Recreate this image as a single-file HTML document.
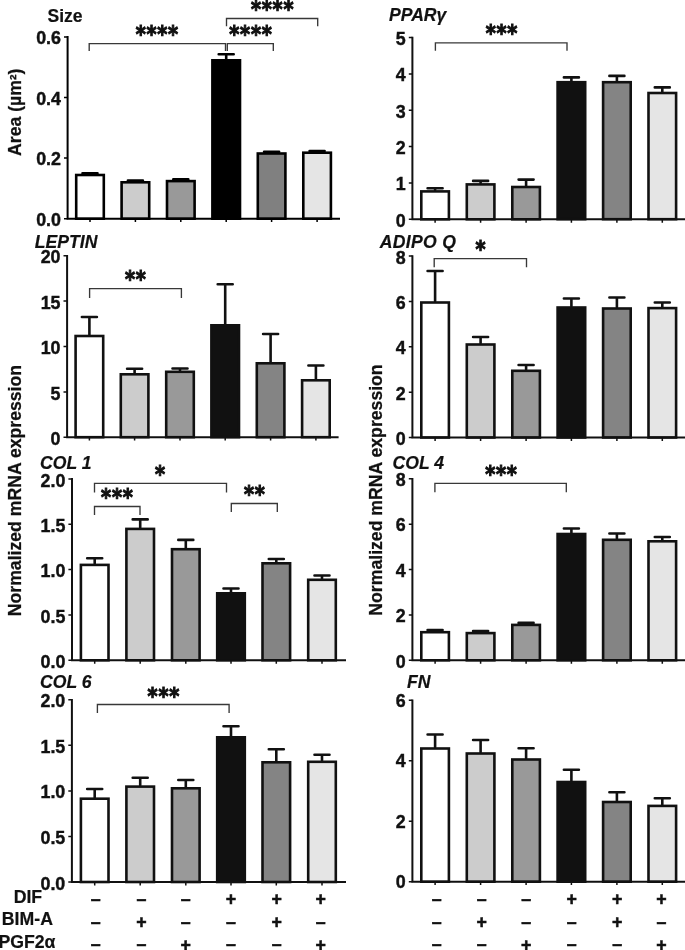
<!DOCTYPE html>
<html lang="en"><head><meta charset="utf-8"><title>Figure</title>
<style>html,body{margin:0;padding:0;background:#fff;}svg{display:block;}text{font-family:'Liberation Sans', Arial, Helvetica, sans-serif;font-weight:bold;fill:#111;}.tk{font-size:17.85px;text-anchor:end;stroke:#111;stroke-width:0.4px;}.tt{font-size:17.5px;stroke:#111;stroke-width:0.2px;}.it{font-style:italic;font-size:17.6px;}.st{font-family:'DejaVu Sans',sans-serif;font-size:19.2px;text-anchor:middle;letter-spacing:0.75px;stroke:#111;stroke-width:0.95px;}.yl{font-size:17.65px;text-anchor:middle;stroke:#111;stroke-width:0.25px;}.rl{font-size:17.7px;text-anchor:middle;stroke:#111;stroke-width:0.2px;}.pm{font-size:17.8px;text-anchor:middle;stroke:#111;stroke-width:0.55px;}</style></head><body>
<svg width="685" height="950" viewBox="0 0 685 950">
<rect x="0" y="0" width="685" height="950" fill="#fff"/>
<g>
<path d="M90.0 173.7V173.2M82.5 173.2H97.5" stroke="#000" stroke-width="2.6" fill="none" stroke-linecap="round"/>
<rect x="76.2" y="175.0" width="27.6" height="43.7" fill="#ffffff" stroke="#000" stroke-width="2.6"/>
<path d="M135.4 181.0V180.6M127.9 180.6H142.9" stroke="#000" stroke-width="2.6" fill="none" stroke-linecap="round"/>
<rect x="121.6" y="182.3" width="27.6" height="36.4" fill="#cccccc" stroke="#000" stroke-width="2.6"/>
<path d="M180.8 179.8V179.4M173.3 179.4H188.3" stroke="#000" stroke-width="2.6" fill="none" stroke-linecap="round"/>
<rect x="167.0" y="181.1" width="27.6" height="37.6" fill="#999999" stroke="#000" stroke-width="2.6"/>
<path d="M226.2 59.0V54.2M218.7 54.2H233.7" stroke="#000" stroke-width="2.6" fill="none" stroke-linecap="round"/>
<rect x="212.4" y="60.3" width="27.6" height="158.4" fill="#000000" stroke="#000" stroke-width="2.6"/>
<path d="M271.6 152.2V151.8M264.1 151.8H279.1" stroke="#000" stroke-width="2.6" fill="none" stroke-linecap="round"/>
<rect x="257.8" y="153.5" width="27.6" height="65.2" fill="#808080" stroke="#000" stroke-width="2.6"/>
<path d="M317.1 151.4V151.0M309.6 151.0H324.6" stroke="#000" stroke-width="2.6" fill="none" stroke-linecap="round"/>
<rect x="303.3" y="152.7" width="27.6" height="66.0" fill="#e5e5e5" stroke="#000" stroke-width="2.6"/>
<path d="M67.6 36.1V218.7H340.0" stroke="#000" stroke-width="2" fill="none" stroke-linejoin="miter"/>
<path d="M67.6 36.9H64.0M67.6 97.5H64.0M67.6 158.1H64.0M67.6 218.7H64.0M90.0 218.7V222.1M135.4 218.7V222.1M180.8 218.7V222.1M226.2 218.7V222.1M271.6 218.7V222.1M317.1 218.7V222.1" stroke="#000" stroke-width="1.5" fill="none"/>
<text class="tk" x="61.0" y="44.0">0.6</text>
<text class="tk" x="61.0" y="104.6">0.4</text>
<text class="tk" x="61.0" y="165.2">0.2</text>
<text class="tk" x="61.0" y="225.8">0.0</text>
<text class="tt" x="47.5" y="22.2">Size</text>
<path d="M89.2 50.9V43.6H225.5V50.9" stroke="#383838" stroke-width="1.35" fill="none"/>
<text class="st" transform="translate(157.3 41.9) scale(1 1.19)">****</text>
<path d="M227.3 50.9V43.6H273.3V50.9" stroke="#383838" stroke-width="1.35" fill="none"/>
<text class="st" transform="translate(250.9 41.9) scale(1 1.19)">****</text>
<path d="M226.5 26.3V18.5H317.7V26.3" stroke="#383838" stroke-width="1.35" fill="none"/>
<text class="st" transform="translate(272.6 16.9) scale(1 1.19)">****</text>
</g>
<g>
<path d="M435.1 190.1V188.2M427.6 188.2H442.6" stroke="#111" stroke-width="2.6" fill="none" stroke-linecap="round"/>
<rect x="421.3" y="191.4" width="27.6" height="27.9" fill="#ffffff" stroke="#111" stroke-width="2.6"/>
<path d="M480.6 183.1V180.9M473.1 180.9H488.1" stroke="#111" stroke-width="2.6" fill="none" stroke-linecap="round"/>
<rect x="466.8" y="184.4" width="27.6" height="34.9" fill="#cccccc" stroke="#111" stroke-width="2.6"/>
<path d="M526.1 185.7V179.6M518.6 179.6H533.6" stroke="#111" stroke-width="2.6" fill="none" stroke-linecap="round"/>
<rect x="512.3" y="187.0" width="27.6" height="32.3" fill="#999999" stroke="#111" stroke-width="2.6"/>
<path d="M571.4 80.9V77.4M563.9 77.4H578.9" stroke="#111" stroke-width="2.6" fill="none" stroke-linecap="round"/>
<rect x="557.6" y="82.2" width="27.6" height="137.0" fill="#111111" stroke="#111" stroke-width="2.6"/>
<path d="M616.9 80.9V75.9M609.4 75.9H624.4" stroke="#111" stroke-width="2.6" fill="none" stroke-linecap="round"/>
<rect x="603.1" y="82.2" width="27.6" height="137.0" fill="#848484" stroke="#111" stroke-width="2.6"/>
<path d="M662.3 91.7V87.4M654.8 87.4H669.8" stroke="#111" stroke-width="2.6" fill="none" stroke-linecap="round"/>
<rect x="648.5" y="93.0" width="27.6" height="126.2" fill="#e5e5e5" stroke="#111" stroke-width="2.6"/>
<path d="M412.4 36.8V219.2H686.0" stroke="#111" stroke-width="2" fill="none" stroke-linejoin="miter"/>
<path d="M412.4 37.5H408.8M412.4 73.9H408.8M412.4 110.2H408.8M412.4 146.6H408.8M412.4 182.9H408.8M412.4 219.2H408.8M435.1 219.2V222.7M480.6 219.2V222.7M526.1 219.2V222.7M571.4 219.2V222.7M616.9 219.2V222.7M662.3 219.2V222.7" stroke="#111" stroke-width="1.5" fill="none"/>
<text class="tk" x="405.8" y="44.9">5</text>
<text class="tk" x="405.8" y="81.3">4</text>
<text class="tk" x="405.8" y="117.6">3</text>
<text class="tk" x="405.8" y="154.0">2</text>
<text class="tk" x="405.8" y="190.3">1</text>
<text class="tk" x="405.8" y="226.7">0</text>
<text class="tt it" x="389.0" y="21.3">PPARγ</text>
<path d="M435.4 50.8V42.8H567.0V50.8" stroke="#383838" stroke-width="1.35" fill="none"/>
<text class="st" transform="translate(501.9 40.9) scale(1 1.19)">***</text>
</g>
<g>
<path d="M89.4 334.7V317.0M81.9 317.0H96.9" stroke="#111" stroke-width="2.6" fill="none" stroke-linecap="round"/>
<rect x="75.6" y="336.0" width="27.6" height="101.2" fill="#ffffff" stroke="#111" stroke-width="2.6"/>
<path d="M134.6 373.0V368.8M127.1 368.8H142.1" stroke="#111" stroke-width="2.6" fill="none" stroke-linecap="round"/>
<rect x="120.8" y="374.3" width="27.6" height="62.9" fill="#cccccc" stroke="#111" stroke-width="2.6"/>
<path d="M180.0 370.5V368.5M172.5 368.5H187.5" stroke="#111" stroke-width="2.6" fill="none" stroke-linecap="round"/>
<rect x="166.2" y="371.8" width="27.6" height="65.4" fill="#999999" stroke="#111" stroke-width="2.6"/>
<path d="M225.2 324.0V284.2M217.7 284.2H232.7" stroke="#111" stroke-width="2.6" fill="none" stroke-linecap="round"/>
<rect x="211.4" y="325.3" width="27.6" height="111.9" fill="#111111" stroke="#111" stroke-width="2.6"/>
<path d="M270.6 362.0V334.0M263.1 334.0H278.1" stroke="#111" stroke-width="2.6" fill="none" stroke-linecap="round"/>
<rect x="256.8" y="363.3" width="27.6" height="73.9" fill="#848484" stroke="#111" stroke-width="2.6"/>
<path d="M315.9 379.0V365.5M308.4 365.5H323.4" stroke="#111" stroke-width="2.6" fill="none" stroke-linecap="round"/>
<rect x="302.1" y="380.3" width="27.6" height="56.9" fill="#e5e5e5" stroke="#111" stroke-width="2.6"/>
<path d="M67.1 255.0V437.2H338.6" stroke="#111" stroke-width="2" fill="none" stroke-linejoin="miter"/>
<path d="M67.1 255.8H63.5M67.1 301.1H63.5M67.1 346.5H63.5M67.1 391.9H63.5M67.1 437.2H63.5M89.4 437.2V440.6M134.6 437.2V440.6M180.0 437.2V440.6M225.2 437.2V440.6M270.6 437.2V440.6M315.9 437.2V440.6" stroke="#111" stroke-width="1.5" fill="none"/>
<text class="tk" x="60.5" y="263.4">20</text>
<text class="tk" x="60.5" y="308.8">15</text>
<text class="tk" x="60.5" y="354.1">10</text>
<text class="tk" x="60.5" y="399.5">5</text>
<text class="tk" x="60.5" y="444.8">0</text>
<text class="tt it" x="34.8" y="248.3">LEPTIN</text>
<path d="M89.6 297.9V288.6H181.4V297.9" stroke="#383838" stroke-width="1.35" fill="none"/>
<text class="st" transform="translate(135.7 286.9) scale(1 1.19)">**</text>
</g>
<g>
<path d="M435.1 301.2V271.0M427.6 271.0H442.6" stroke="#111" stroke-width="2.6" fill="none" stroke-linecap="round"/>
<rect x="421.3" y="302.5" width="27.6" height="135.0" fill="#ffffff" stroke="#111" stroke-width="2.6"/>
<path d="M480.6 343.2V337.0M473.1 337.0H488.1" stroke="#111" stroke-width="2.6" fill="none" stroke-linecap="round"/>
<rect x="466.8" y="344.5" width="27.6" height="93.0" fill="#cccccc" stroke="#111" stroke-width="2.6"/>
<path d="M526.1 369.5V365.0M518.6 365.0H533.6" stroke="#111" stroke-width="2.6" fill="none" stroke-linecap="round"/>
<rect x="512.3" y="370.8" width="27.6" height="66.7" fill="#999999" stroke="#111" stroke-width="2.6"/>
<path d="M571.4 306.2V298.5M563.9 298.5H578.9" stroke="#111" stroke-width="2.6" fill="none" stroke-linecap="round"/>
<rect x="557.6" y="307.5" width="27.6" height="130.0" fill="#111111" stroke="#111" stroke-width="2.6"/>
<path d="M616.9 307.2V297.5M609.4 297.5H624.4" stroke="#111" stroke-width="2.6" fill="none" stroke-linecap="round"/>
<rect x="603.1" y="308.5" width="27.6" height="129.0" fill="#848484" stroke="#111" stroke-width="2.6"/>
<path d="M662.3 306.8V302.5M654.8 302.5H669.8" stroke="#111" stroke-width="2.6" fill="none" stroke-linecap="round"/>
<rect x="648.5" y="308.1" width="27.6" height="129.4" fill="#e5e5e5" stroke="#111" stroke-width="2.6"/>
<path d="M412.4 255.3V437.5H686.0" stroke="#111" stroke-width="2" fill="none" stroke-linejoin="miter"/>
<path d="M412.4 256.1H408.8M412.4 301.5H408.8M412.4 346.8H408.8M412.4 392.2H408.8M412.4 437.5H408.8M435.1 437.5V440.9M480.6 437.5V440.9M526.1 437.5V440.9M571.4 437.5V440.9M616.9 437.5V440.9M662.3 437.5V440.9" stroke="#111" stroke-width="1.5" fill="none"/>
<text class="tk" x="405.8" y="263.7">8</text>
<text class="tk" x="405.8" y="309.0">6</text>
<text class="tk" x="405.8" y="354.4">4</text>
<text class="tk" x="405.8" y="399.7">2</text>
<text class="tk" x="405.8" y="445.1">0</text>
<text class="tt it" x="379.8" y="248.3" letter-spacing="0.30">ADIPO Q</text>
<path d="M434.2 267.3V258.6H526.5V267.3" stroke="#383838" stroke-width="1.35" fill="none"/>
<text class="st" transform="translate(480.9 257.4) scale(1 1.19)">*</text>
</g>
<g>
<path d="M94.7 563.6V558.3M87.2 558.3H102.2" stroke="#111" stroke-width="2.6" fill="none" stroke-linecap="round"/>
<rect x="80.9" y="564.9" width="27.6" height="95.4" fill="#ffffff" stroke="#111" stroke-width="2.6"/>
<path d="M140.2 527.6V519.4M132.7 519.4H147.7" stroke="#111" stroke-width="2.6" fill="none" stroke-linecap="round"/>
<rect x="126.4" y="528.9" width="27.6" height="131.4" fill="#cccccc" stroke="#111" stroke-width="2.6"/>
<path d="M185.8 547.9V539.9M178.3 539.9H193.3" stroke="#111" stroke-width="2.6" fill="none" stroke-linecap="round"/>
<rect x="172.0" y="549.2" width="27.6" height="111.1" fill="#999999" stroke="#111" stroke-width="2.6"/>
<path d="M231.0 592.0V588.5M223.5 588.5H238.5" stroke="#111" stroke-width="2.6" fill="none" stroke-linecap="round"/>
<rect x="217.2" y="593.3" width="27.6" height="67.0" fill="#111111" stroke="#111" stroke-width="2.6"/>
<path d="M276.3 562.0V559.0M268.8 559.0H283.8" stroke="#111" stroke-width="2.6" fill="none" stroke-linecap="round"/>
<rect x="262.5" y="563.3" width="27.6" height="97.0" fill="#848484" stroke="#111" stroke-width="2.6"/>
<path d="M322.0 578.5V575.5M314.5 575.5H329.5" stroke="#111" stroke-width="2.6" fill="none" stroke-linecap="round"/>
<rect x="308.2" y="579.8" width="27.6" height="80.5" fill="#e5e5e5" stroke="#111" stroke-width="2.6"/>
<path d="M72.0 478.1V660.3H346.0" stroke="#111" stroke-width="2" fill="none" stroke-linejoin="miter"/>
<path d="M72.0 478.9H68.4M72.0 524.3H68.4M72.0 569.6H68.4M72.0 615.0H68.4M72.0 660.3H68.4M94.7 660.3V663.7M140.2 660.3V663.7M185.8 660.3V663.7M231.0 660.3V663.7M276.3 660.3V663.7M322.0 660.3V663.7" stroke="#111" stroke-width="1.5" fill="none"/>
<text class="tk" x="65.4" y="486.6">2.0</text>
<text class="tk" x="65.4" y="532.0">1.5</text>
<text class="tk" x="65.4" y="577.3">1.0</text>
<text class="tk" x="65.4" y="622.7">0.5</text>
<text class="tk" x="65.4" y="668.0">0.0</text>
<text class="tt it" x="40.0" y="468.6">COL 1</text>
<path d="M94.5 492.5V483.4H226.5V492.5" stroke="#383838" stroke-width="1.35" fill="none"/>
<text class="st" transform="translate(160.3 482.2) scale(1 1.19)">*</text>
<path d="M94.5 515.0V506.5H140.0V515.0" stroke="#383838" stroke-width="1.35" fill="none"/>
<text class="st" transform="translate(117.3 505.0) scale(1 1.19)">***</text>
<path d="M231.3 512.0V503.5H277.3V512.0" stroke="#383838" stroke-width="1.35" fill="none"/>
<text class="st" transform="translate(254.8 501.9) scale(1 1.19)">**</text>
</g>
<g>
<path d="M435.1 630.9V630.1M427.6 630.1H442.6" stroke="#111" stroke-width="2.6" fill="none" stroke-linecap="round"/>
<rect x="421.3" y="632.2" width="27.6" height="28.1" fill="#ffffff" stroke="#111" stroke-width="2.6"/>
<path d="M480.6 631.8V631.0M473.1 631.0H488.1" stroke="#111" stroke-width="2.6" fill="none" stroke-linecap="round"/>
<rect x="466.8" y="633.1" width="27.6" height="27.2" fill="#cccccc" stroke="#111" stroke-width="2.6"/>
<path d="M526.1 623.6V622.9M518.6 622.9H533.6" stroke="#111" stroke-width="2.6" fill="none" stroke-linecap="round"/>
<rect x="512.3" y="624.9" width="27.6" height="35.4" fill="#999999" stroke="#111" stroke-width="2.6"/>
<path d="M571.4 532.7V528.5M563.9 528.5H578.9" stroke="#111" stroke-width="2.6" fill="none" stroke-linecap="round"/>
<rect x="557.6" y="534.0" width="27.6" height="126.3" fill="#111111" stroke="#111" stroke-width="2.6"/>
<path d="M616.9 538.5V533.5M609.4 533.5H624.4" stroke="#111" stroke-width="2.6" fill="none" stroke-linecap="round"/>
<rect x="603.1" y="539.8" width="27.6" height="120.5" fill="#848484" stroke="#111" stroke-width="2.6"/>
<path d="M662.3 540.0V537.0M654.8 537.0H669.8" stroke="#111" stroke-width="2.6" fill="none" stroke-linecap="round"/>
<rect x="648.5" y="541.3" width="27.6" height="119.0" fill="#e5e5e5" stroke="#111" stroke-width="2.6"/>
<path d="M412.4 478.0V660.3H686.0" stroke="#111" stroke-width="2" fill="none" stroke-linejoin="miter"/>
<path d="M412.4 478.8H408.8M412.4 524.2H408.8M412.4 569.5H408.8M412.4 614.9H408.8M412.4 660.3H408.8M435.1 660.3V663.7M480.6 660.3V663.7M526.1 660.3V663.7M571.4 660.3V663.7M616.9 660.3V663.7M662.3 660.3V663.7" stroke="#111" stroke-width="1.5" fill="none"/>
<text class="tk" x="405.8" y="486.0">8</text>
<text class="tk" x="405.8" y="531.4">6</text>
<text class="tk" x="405.8" y="576.8">4</text>
<text class="tk" x="405.8" y="622.1">2</text>
<text class="tk" x="405.8" y="667.5">0</text>
<text class="tt it" x="392.5" y="468.6">COL 4</text>
<path d="M434.9 492.2V483.3H566.3V492.2" stroke="#383838" stroke-width="1.35" fill="none"/>
<text class="st" transform="translate(501.4 482.4) scale(1 1.19)">***</text>
</g>
<g>
<path d="M94.7 797.4V789.0M87.2 789.0H102.2" stroke="#111" stroke-width="2.6" fill="none" stroke-linecap="round"/>
<rect x="80.9" y="798.7" width="27.6" height="83.3" fill="#ffffff" stroke="#111" stroke-width="2.6"/>
<path d="M140.2 785.3V777.8M132.7 777.8H147.7" stroke="#111" stroke-width="2.6" fill="none" stroke-linecap="round"/>
<rect x="126.4" y="786.6" width="27.6" height="95.4" fill="#cccccc" stroke="#111" stroke-width="2.6"/>
<path d="M185.8 787.0V780.0M178.3 780.0H193.3" stroke="#111" stroke-width="2.6" fill="none" stroke-linecap="round"/>
<rect x="172.0" y="788.3" width="27.6" height="93.7" fill="#999999" stroke="#111" stroke-width="2.6"/>
<path d="M231.0 736.0V726.3M223.5 726.3H238.5" stroke="#111" stroke-width="2.6" fill="none" stroke-linecap="round"/>
<rect x="217.2" y="737.3" width="27.6" height="144.7" fill="#111111" stroke="#111" stroke-width="2.6"/>
<path d="M276.3 761.0V749.3M268.8 749.3H283.8" stroke="#111" stroke-width="2.6" fill="none" stroke-linecap="round"/>
<rect x="262.5" y="762.3" width="27.6" height="119.7" fill="#848484" stroke="#111" stroke-width="2.6"/>
<path d="M322.0 760.5V754.8M314.5 754.8H329.5" stroke="#111" stroke-width="2.6" fill="none" stroke-linecap="round"/>
<rect x="308.2" y="761.8" width="27.6" height="120.2" fill="#e5e5e5" stroke="#111" stroke-width="2.6"/>
<path d="M71.9 699.0V882.0H346.0" stroke="#111" stroke-width="2" fill="none" stroke-linejoin="miter"/>
<path d="M71.9 699.8H68.3M71.9 745.3H68.3M71.9 790.9H68.3M71.9 836.5H68.3M71.9 882.0H68.3M94.7 882.0V885.4M140.2 882.0V885.4M185.8 882.0V885.4M231.0 882.0V885.4M276.3 882.0V885.4M322.0 882.0V885.4" stroke="#111" stroke-width="1.5" fill="none"/>
<text class="tk" x="65.3" y="707.3">2.0</text>
<text class="tk" x="65.3" y="752.8">1.5</text>
<text class="tk" x="65.3" y="798.4">1.0</text>
<text class="tk" x="65.3" y="844.0">0.5</text>
<text class="tk" x="65.3" y="889.5">0.0</text>
<text class="tt it" x="40.0" y="688.1">COL 6</text>
<path d="M97.4 713.0V704.5H229.1V713.0" stroke="#383838" stroke-width="1.35" fill="none"/>
<text class="st" transform="translate(163.8 704.2) scale(1 1.19)">***</text>
</g>
<g>
<path d="M435.1 747.2V734.5M427.6 734.5H442.6" stroke="#111" stroke-width="2.6" fill="none" stroke-linecap="round"/>
<rect x="421.3" y="748.5" width="27.6" height="133.2" fill="#ffffff" stroke="#111" stroke-width="2.6"/>
<path d="M480.6 752.2V740.0M473.1 740.0H488.1" stroke="#111" stroke-width="2.6" fill="none" stroke-linecap="round"/>
<rect x="466.8" y="753.5" width="27.6" height="128.2" fill="#cccccc" stroke="#111" stroke-width="2.6"/>
<path d="M526.1 758.2V748.3M518.6 748.3H533.6" stroke="#111" stroke-width="2.6" fill="none" stroke-linecap="round"/>
<rect x="512.3" y="759.5" width="27.6" height="122.2" fill="#999999" stroke="#111" stroke-width="2.6"/>
<path d="M571.4 780.7V769.8M563.9 769.8H578.9" stroke="#111" stroke-width="2.6" fill="none" stroke-linecap="round"/>
<rect x="557.6" y="782.0" width="27.6" height="99.7" fill="#111111" stroke="#111" stroke-width="2.6"/>
<path d="M616.9 800.7V792.3M609.4 792.3H624.4" stroke="#111" stroke-width="2.6" fill="none" stroke-linecap="round"/>
<rect x="603.1" y="802.0" width="27.6" height="79.7" fill="#848484" stroke="#111" stroke-width="2.6"/>
<path d="M662.3 804.6V798.3M654.8 798.3H669.8" stroke="#111" stroke-width="2.6" fill="none" stroke-linecap="round"/>
<rect x="648.5" y="805.9" width="27.6" height="75.8" fill="#e5e5e5" stroke="#111" stroke-width="2.6"/>
<path d="M412.4 699.5V881.8H686.0" stroke="#111" stroke-width="2" fill="none" stroke-linejoin="miter"/>
<path d="M412.4 700.3H408.8M412.4 760.8H408.8M412.4 821.3H408.8M412.4 881.8H408.8M435.1 881.8V885.1M480.6 881.8V885.1M526.1 881.8V885.1M571.4 881.8V885.1M616.9 881.8V885.1M662.3 881.8V885.1" stroke="#111" stroke-width="1.5" fill="none"/>
<text class="tk" x="405.8" y="706.5">6</text>
<text class="tk" x="405.8" y="767.0">4</text>
<text class="tk" x="405.8" y="827.5">2</text>
<text class="tk" x="405.8" y="888.0">0</text>
<text class="tt it" x="407.0" y="687.8">FN</text>
</g>
<text class="yl" transform="translate(21.1 112.3) rotate(-90)">Area (µm<tspan font-size="16.6" dy="0.9">²</tspan><tspan dy="-0.9">)</tspan></text>
<text class="yl" transform="translate(20.8 490.6) rotate(-90)">Normalized mRNA expression</text>
<text class="yl" transform="translate(381.9 490) rotate(-90)">Normalized mRNA expression</text>
<text class="rl" x="27.9" y="902.6">DIF</text>
<text class="pm" x="95.7" y="904.6">–</text>
<text class="pm" x="141.4" y="904.6">–</text>
<text class="pm" x="185.6" y="904.6">–</text>
<text class="pm" x="231.0" y="905.1">+</text>
<text class="pm" x="276.6" y="905.1">+</text>
<text class="pm" x="320.7" y="905.1">+</text>
<text class="pm" x="436.7" y="904.6">–</text>
<text class="pm" x="481.8" y="904.6">–</text>
<text class="pm" x="526.3" y="904.6">–</text>
<text class="pm" x="571.8" y="905.1">+</text>
<text class="pm" x="617.2" y="905.1">+</text>
<text class="pm" x="661.5" y="905.1">+</text>
<text class="rl" x="27.4" y="924.6">BIM-A</text>
<text class="pm" x="95.7" y="927.8">–</text>
<text class="pm" x="141.4" y="928.3">+</text>
<text class="pm" x="185.6" y="927.8">–</text>
<text class="pm" x="231.0" y="927.8">–</text>
<text class="pm" x="276.6" y="928.3">+</text>
<text class="pm" x="320.7" y="927.8">–</text>
<text class="pm" x="436.7" y="927.8">–</text>
<text class="pm" x="481.8" y="928.3">+</text>
<text class="pm" x="526.3" y="927.8">–</text>
<text class="pm" x="571.8" y="927.8">–</text>
<text class="pm" x="617.2" y="928.3">+</text>
<text class="pm" x="661.5" y="927.8">–</text>
<text class="rl" x="26.9" y="947.6">PGF2α</text>
<text class="pm" x="95.7" y="950.4">–</text>
<text class="pm" x="141.4" y="950.4">–</text>
<text class="pm" x="185.6" y="950.9">+</text>
<text class="pm" x="231.0" y="950.4">–</text>
<text class="pm" x="276.6" y="950.4">–</text>
<text class="pm" x="320.7" y="950.9">+</text>
<text class="pm" x="436.7" y="950.4">–</text>
<text class="pm" x="481.8" y="950.4">–</text>
<text class="pm" x="526.3" y="950.9">+</text>
<text class="pm" x="571.8" y="950.4">–</text>
<text class="pm" x="617.2" y="950.4">–</text>
<text class="pm" x="661.5" y="950.9">+</text>
</svg></body></html>
